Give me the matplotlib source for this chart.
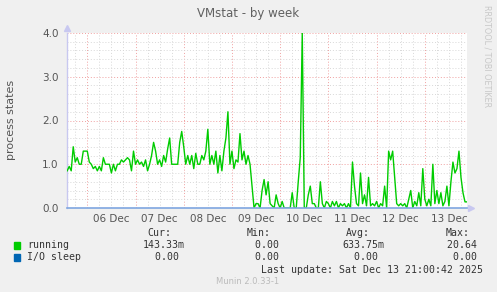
import numpy as np
import pandas as pd
import matplotlib
matplotlib.use('Agg')
from matplotlib import pyplot as plt

# running processes, hourly samples from Dec 5 14:00 to Dec 13 21:00
running = [
    0.85, 0.95, 0.85, 1.4, 1.05, 1.15, 1.0, 1.0, 1.3, 1.3, 1.3, 1.05, 1.0, 0.9, 0.95, 0.85, 0.95,
    0.85, 1.15, 1.0, 1.0, 1.0, 0.8, 1.0, 0.85, 1.0, 1.0, 1.1, 1.05, 1.1, 1.15, 1.1, 0.85, 1.3,
    1.0, 1.1, 1.0, 1.05, 0.95, 1.1, 0.85, 1.0, 1.2, 1.5, 1.3, 1.0, 1.1, 0.95, 1.2, 1.05, 1.35,
    1.6, 1.0, 1.0, 1.0, 1.0, 1.5, 1.75, 1.4, 1.0, 1.2, 1.0, 1.2, 0.9, 1.25, 1.0, 1.0, 1.2,
    1.1, 1.3, 1.8, 1.0, 1.2, 1.0, 1.3, 0.8, 1.2, 0.85, 1.3, 1.6, 2.2, 1.0, 1.3, 0.9, 1.1,
    1.05, 1.7, 1.1, 1.3, 1.0, 1.2, 1.0, 0.5, 0.0, 0.1, 0.1, 0.0, 0.4, 0.65, 0.3, 0.6, 0.1,
    0.05, 0.0, 0.3, 0.1, 0.0, 0.15, 0.0, 0.0, 0.0, 0.0, 0.35, 0.0, 0.0, 0.6, 1.15, 4.0, 0.0,
    0.0, 0.3, 0.5, 0.1, 0.1, 0.0, 0.0, 0.6, 0.1, 0.0, 0.15, 0.1, 0.0, 0.15, 0.05, 0.15, 0.0,
    0.1, 0.05, 0.1, 0.0, 0.1, 0.0, 1.05, 0.5, 0.1, 0.05, 0.8, 0.1, 0.3, 0.05, 0.7, 0.05, 0.1,
    0.05, 0.15, 0.0, 0.1, 0.05, 0.5, 0.0, 1.3, 1.1, 1.3, 0.7, 0.1, 0.05, 0.1, 0.05, 0.1, 0.0,
    0.2, 0.4, 0.0, 0.15, 0.05, 0.35, 0.05, 0.9, 0.2, 0.05, 0.2, 0.05, 1.0, 0.1, 0.4, 0.1,
    0.35, 0.05, 0.15, 0.5, 0.05, 0.6, 1.05, 0.8, 0.9, 1.3, 0.7, 0.35, 0.14, 0.14,
]
times = pd.date_range('2025-12-05 14:00', periods=len(running), freq='h')
io_sleep = [0.0] * len(running)

legend_names = ['running', 'I/O sleep']
legend_colors = ['#00CC00', '#0066B3']
cur_vals = ['143.33m', '0.00 ']
min_vals = ['0.00 ', '0.00 ']
avg_vals = ['633.75m', '0.00 ']
max_vals = ['20.64 ', '0.00 ']
day_labels = ['06 Dec', '07 Dec', '08 Dec', '09 Dec', '10 Dec', '11 Dec', '12 Dec', '13 Dec']

W, H = 497, 292
fig = plt.figure(figsize=(W / 100, H / 100), dpi=100, facecolor='#F0F0F0')
ax = fig.add_axes([67 / W, 1 - 208 / H, 400 / W, 175 / H])
ax.set_facecolor('white')

t0 = pd.Timestamp('2025-12-05 13:54')
t1 = pd.Timestamp('2025-12-13 21:00')
ax.set_xlim(t0, t1)
ax.set_ylim(0, 4.0)

# grid: gray every 6h / 0.2, red at midnight / 1.0
minor_color = '#D8D8D8'
major_color = '#F0A0A0'
for h in pd.date_range('2025-12-05 18:00', '2025-12-13 18:00', freq='6h'):
    c = major_color if h.hour == 0 else minor_color
    ax.axvline(h, color=c, lw=0.7, ls=(0, (1, 2)), zorder=1)
for v in np.arange(0.2, 4.01, 0.2):
    c = major_color if abs(v - round(v)) < 1e-6 else minor_color
    ax.axhline(v, color=c, lw=0.7, ls=(0, (1, 2)), zorder=1)

ax.plot(times, running, color=legend_colors[0], lw=1.0, zorder=3)
ax.plot(times, io_sleep, color='#7FA6E0', lw=1.2, zorder=4, clip_on=False)

for s in ['top', 'right', 'bottom']:
    ax.spines[s].set_visible(False)
ax.spines['left'].set_color('#C8C8F0')
ax.spines['left'].set_linewidth(1.0)

# arrows at axis ends
ax.plot([0], [1.03], marker='^', color='#C8C8F0', ms=4, transform=ax.transAxes, clip_on=False)
ax.plot([1.01], [0], marker='>', color='#C8C8F0', ms=4, transform=ax.transAxes, clip_on=False)

ax.set_yticks([0, 1, 2, 3, 4])
ax.set_yticklabels(['0.0', '1.0', '2.0', '3.0', '4.0'])
noons = pd.date_range('2025-12-06 12:00', periods=len(day_labels), freq='D')
ax.set_xticks(noons)
ax.set_xticklabels(day_labels)
ax.tick_params(axis='both', length=0, labelsize=7.5, colors='#555555')
ax.tick_params(axis='y', pad=6)
ax.tick_params(axis='x', pad=4)

fig.text(248 / W, 1 - 13 / H, 'VMstat - by week', ha='center', va='center',
         fontsize=8.5, color='#606060')
fig.text(11 / W, 1 - 120 / H, 'process states', rotation=90, ha='center', va='center',
         fontsize=8, color='#555555')
fig.text(487 / W, 1 - 56 / H, 'RRDTOOL / TOBI OETIKER', rotation=270, ha='center',
         va='center', fontsize=5.8, color='#C8C8C8')

mono = 'DejaVu Sans Mono'
fs = 7.1
tc = '#333333'
hy = 1 - 233 / H
for x, lab in [(171, 'Cur:'), (271, 'Min:'), (370, 'Avg:'), (470, 'Max:')]:
    fig.text(x / W, hy, lab, ha='right', va='center', family=mono, fontsize=fs, color=tc)

rows_y = [245.5, 257.5]
for i in range(len(legend_names)):
    y = 1 - rows_y[i] / H
    fig.patches.append(plt.Rectangle((14 / W, y - 3.5 / H), 6 / W, 7 / H,
                                     transform=fig.transFigure, color=legend_colors[i]))
    fig.text(27 / W, y, legend_names[i], ha='left', va='center', family=mono, fontsize=fs, color=tc)
    fig.text(185 / W, y, cur_vals[i], ha='right', va='center', family=mono, fontsize=fs, color=tc)
    fig.text(285 / W, y, min_vals[i], ha='right', va='center', family=mono, fontsize=fs, color=tc)
    fig.text(384 / W, y, avg_vals[i], ha='right', va='center', family=mono, fontsize=fs, color=tc)
    fig.text(483 / W, y, max_vals[i], ha='right', va='center', family=mono, fontsize=fs, color=tc)

fig.text(483 / W, 1 - 270 / H, 'Last update: Sat Dec 13 21:00:42 2025', ha='right', va='center',
         family=mono, fontsize=fs, color=tc)
fig.text(248 / W, 1 - 281 / H, 'Munin 2.0.33-1', ha='center', va='center',
         fontsize=6, color='#BBBBBB')

fig.savefig('out.png', dpi=100, facecolor=fig.get_facecolor())
